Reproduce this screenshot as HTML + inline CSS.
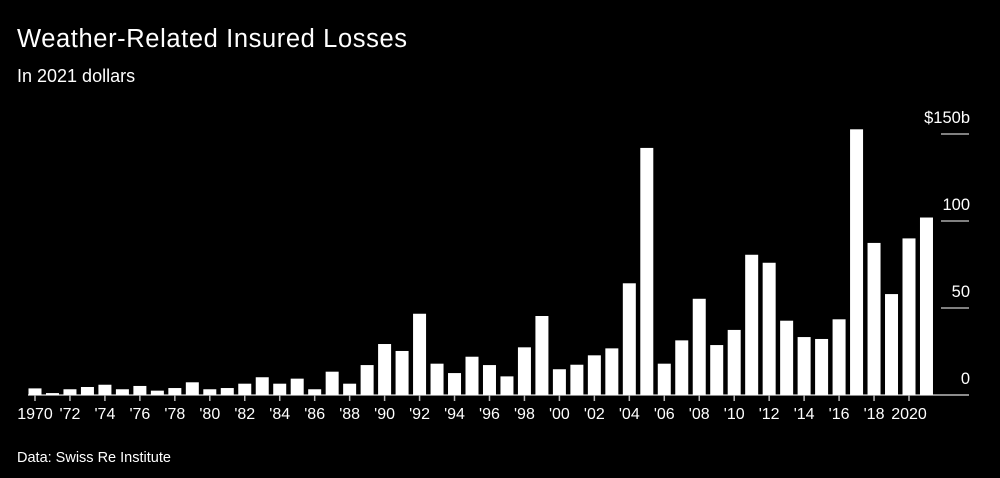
<!DOCTYPE html>
<html><head><meta charset="utf-8"><style>
body{margin:0;background:#000;width:1000px;height:478px;overflow:hidden;font-family:"Liberation Sans",Arial,sans-serif;color:#fff}
svg{position:absolute;left:0;top:0}
</style></head><body>
<svg width="1000" height="478">
<text x="17" y="47" font-size="25.5" fill="#fff" textLength="390">Weather-Related Insured Losses</text>
<text x="17" y="82" font-size="18" fill="#fff">In 2021 dollars</text>
<text x="17" y="462" font-size="14.5" fill="#fff">Data: Swiss Re Institute</text>
<g id="grid"></g>
<g id="bars"></g>
<g id="xaxis"></g>
</svg>
<script>
const years = [];
for (let y = 1970; y <= 2021; y++) years.push(y);
const losses = [3.8,1.1,3.3,4.6,5.9,3.3,5.2,2.5,4,7.3,3.3,4,6.5,10.2,6.5,9.4,3.3,13.4,6.5,17.2,29.3,25.3,46.7,18,12.6,22,17.2,10.7,27.4,45.4,14.8,17.4,22.8,26.8,64.2,142,18,31.4,55.3,28.7,37.4,80.6,76,42.7,33.3,32.2,43.5,152.7,87.4,58,90,102];
const yTicks = [0,50,100,150];
const yTickLabels = ['0','50','100','$150b'];
const xTickYears = [1970,1972,1974,1976,1978,1980,1982,1984,1986,1988,1990,1992,1994,1996,1998,2000,2002,2004,2006,2008,2010,2012,2014,2016,2018,2020];
const xTickLabels = ['1970',"'72","'74","'76","'78","'80","'82","'84","'86","'88","'90","'92","'94","'96","'98","'00","'02","'04","'06","'08","'10","'12","'14","'16","'18",'2020'];

const NS = 'http://www.w3.org/2000/svg';
const x = yr => 35 + (yr - 1970) * 17.48;
const y = v => 395 - v * 1.74;
function mk(tag, attrs, parent) {
  const e = document.createElementNS(NS, tag);
  for (const k in attrs) e.setAttribute(k, attrs[k]);
  parent.appendChild(e);
  return e;
}
const grid = document.getElementById('grid');
yTicks.forEach((v, i) => {
  const l = mk('line', {x1: v === 0 ? 28 : 941, x2: 969, y1: y(v), y2: y(v), stroke: v === 0 ? '#bbb' : '#aaa', 'stroke-width': 1.5}, grid);
  
  
  const t = mk('text', {x: 970, y: y(v) - 11, 'text-anchor': 'end', 'font-size': 16.5, fill: '#fff'}, grid);
  t.textContent = yTickLabels[i];
  
  
});
const bars = document.getElementById('bars');
years.forEach((yr, i) => {
  const r = mk('rect', {x: x(yr) - 6.5, y: y(losses[i]), width: 13, height: losses[i] * 1.74, fill: '#fff'}, bars);
  
  
});
const xa = document.getElementById('xaxis');
xTickYears.forEach((yr, i) => {
  const l = mk('line', {x1: x(yr), x2: x(yr), y1: 395, y2: 401, stroke: '#bbb', 'stroke-width': 1.5}, xa);
  
  
  const t = mk('text', {x: x(yr), y: 419, 'text-anchor': 'middle', 'font-size': 16, fill: '#fff'}, xa);
  t.textContent = xTickLabels[i];
  
  
});
</script>
</body></html>
